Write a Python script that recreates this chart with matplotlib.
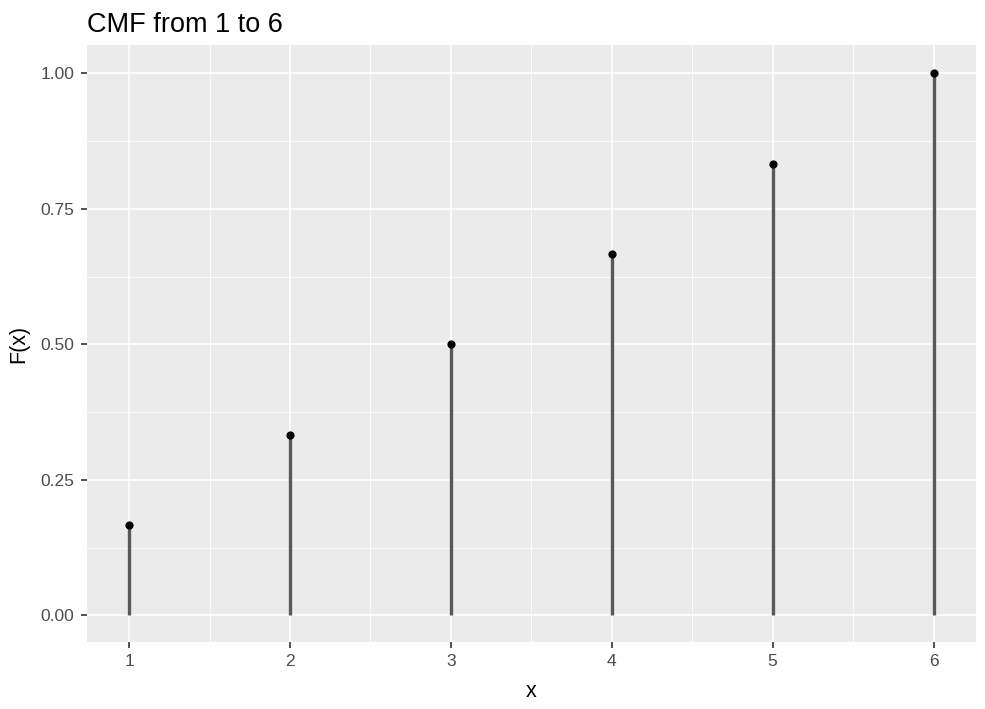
import matplotlib.pyplot as plt
import numpy as np

plt.rcParams['font.family'] = ['Liberation Sans', 'DejaVu Sans']

x = [1, 2, 3, 4, 5, 6]
Fx = [1/6, 2/6, 3/6, 4/6, 5/6, 1.0]
xticks = [1, 2, 3, 4, 5, 6]
yticks = [0.0, 0.25, 0.5, 0.75, 1.0]
ytick_labels = ['0.00', '0.25', '0.50', '0.75', '1.00']

fig = plt.figure(figsize=(9.85, 7.09), dpi=100)
ax = fig.add_axes([87/985, 1-642/709, 889/985, 597/709])
ax.set_facecolor('#EBEBEB')

# grid: major and minor, white
for v in np.arange(1.5, 6, 1.0):
    ax.axvline(v, color='white', lw=0.6, zorder=0)
for v in xticks:
    ax.axvline(v, color='white', lw=1.2, zorder=0)
for v in np.arange(0.125, 1.0, 0.25):
    ax.axhline(v, color='white', lw=0.6, zorder=0)
for v in yticks:
    ax.axhline(v, color='white', lw=1.2, zorder=0)

ax.vlines(x, 0, Fx, color='#595959', lw=2.4, zorder=2)
ax.scatter(x, Fx, color='black', s=24, zorder=3)

ax.set_xlim(0.738, 6.264)
ax.set_ylim(-0.049, 1.052)
ax.set_xticks(xticks)
ax.set_yticks(yticks)
ax.set_yticklabels(ytick_labels)
for s in ax.spines.values():
    s.set_visible(False)
ax.tick_params(colors='#333333', labelcolor='#4D4D4D', labelsize=12.5, length=4, width=1.2, pad=5)

ax.set_xlabel('x', fontsize=15.5, color='black', labelpad=8)
ax.set_ylabel('F(x)', fontsize=15.5, color='black', labelpad=8)
ax.set_title('CMF from 1 to 6', loc='left', fontsize=19.5, color='black', pad=9)

fig.savefig('out.png', dpi=100)
